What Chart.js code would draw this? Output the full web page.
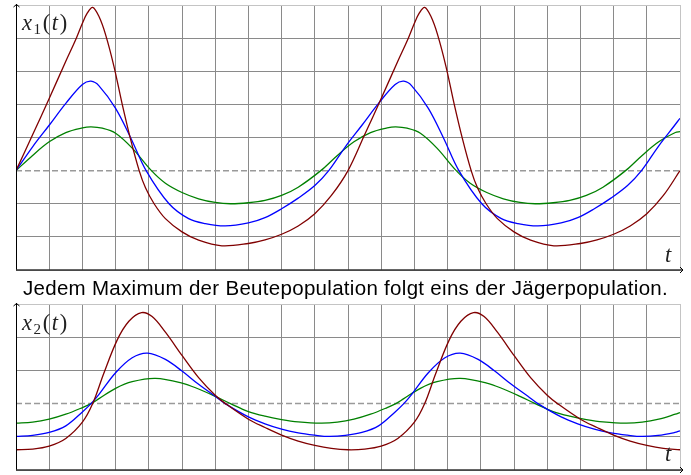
<!DOCTYPE html>
<html><head><meta charset="utf-8">
<script src="https://cdn.jsdelivr.net/npm/chart.js@4/dist/chart.umd.min.js"></script>
<style>
html,body{margin:0;padding:0;background:#fff;}
body{width:691px;height:475px;position:relative;overflow:hidden;}
canvas{position:absolute;left:0;}
#title{position:absolute;left:0;width:691px;top:277px;text-align:center;font-family:"Liberation Sans",Arial,Helvetica,sans-serif;font-size:20.5px;letter-spacing:0.3px;color:#000;white-space:nowrap;line-height:22px;}
.lab{position:absolute;font-family:"Liberation Serif","Times New Roman",serif;font-size:22.5px;letter-spacing:1.6px;color:#222;line-height:22px;white-space:nowrap;}
.lab sub{font-size:15px;font-style:normal;vertical-align:-4px;}
</style></head>
<body>
<canvas id="c1" width="691" height="280" style="top:0"></canvas>
<canvas id="c2" width="691" height="180" style="top:295px"></canvas>
<div id="title">Jedem Maximum der Beutepopulation folgt eins der Jägerpopulation.</div>
<div class="lab" style="left:22px;top:12px"><i>x</i><sub>1</sub>(<i>t</i>)</div>
<div class="lab" style="left:22px;top:312px"><i>x</i><sub>2</sub>(<i>t</i>)</div>
<div class="lab" style="left:665px;top:244px"><i>t</i></div>
<div class="lab" style="left:665px;top:443px"><i>t</i></div>
<script>
// ---- data ----
// Beute x1(t), dunkelrot
const tRedX1 = [0,0.5,1,1.5,1.81,2.0,2.15,2.31,2.5,2.7,2.95,3.2,3.45,3.71,3.9,4.16,4.5,5.0,5.5,6.2,7.0,7.5,8.0,8.5,9.0,9.5,
  10,10.5,11,11.5,11.81,12.0,12.15,12.31,12.5,12.7,12.95,13.2,13.45,13.71,13.9,14.16,14.5,15.0,15.5,16.2,17.0,17.5,18.0,18.5,19.0,19.5,20];
const redX1 = [0,1.08,2.18,3.3,3.98,4.45,4.76,4.93,4.65,4.1,3.15,2.0,0.95,0,-0.52,-1.0,-1.45,-1.85,-2.1,-2.27,-2.2,-2.09,-1.92,-1.67,-1.3,-0.75,
  0,1.08,2.18,3.3,3.98,4.45,4.76,4.93,4.65,4.1,3.15,2.0,0.95,0,-0.52,-1.0,-1.45,-1.85,-2.1,-2.27,-2.2,-2.09,-1.92,-1.67,-1.3,-0.75,0];
// Beute x1(t), blau
const tBlueX1 = [0,0.5,1.0,1.5,2.0,2.26,2.5,3.0,3.46,3.92,4.61,5.2,5.7,6.3,7.0,7.5,8.0,8.5,9.0,
  9.42,9.92,10.42,10.92,11.42,11.68,11.92,12.42,12.88,13.34,14.03,14.62,15.12,15.72,16.42,16.92,17.42,17.92,18.42,
  18.84,19.34,19.84,20];
const blueX1 = [0,0.72,1.37,2.03,2.6,2.7,2.56,1.88,0.98,0,-1.0,-1.45,-1.6,-1.67,-1.58,-1.42,-1.15,-0.83,-0.45,
  0,0.72,1.37,2.03,2.6,2.7,2.56,1.88,0.98,0,-1.0,-1.45,-1.6,-1.67,-1.58,-1.42,-1.15,-0.83,-0.45,
  0,0.72,1.37,1.58];
// Beute x1(t), grün
const tGreenX1 = [0,0.5,1.0,1.5,2.0,2.26,2.6,3.0,3.5,4.08,4.5,5.0,5.5,6.0,6.46,7.0,7.5,8.0,8.5,
  9.18,9.68,10.18,10.68,11.18,11.44,11.78,12.18,12.68,13.26,13.68,14.18,14.68,15.18,15.64,16.18,16.68,17.18,17.68,
  18.36,18.86,19.36,19.86,20];
const greenX1 = [0,0.46,0.87,1.15,1.29,1.32,1.28,1.13,0.68,0,-0.38,-0.66,-0.85,-0.96,-1.0,-0.97,-0.9,-0.75,-0.5,
  0,0.46,0.87,1.15,1.29,1.32,1.28,1.13,0.68,0,-0.38,-0.66,-0.85,-0.96,-1.0,-0.97,-0.9,-0.75,-0.5,
  0,0.46,0.87,1.15,1.18];
// Jäger x2(t), dunkelrot
const tRedX2 = [0,0.5,1.0,1.5,2.0,2.31,2.64,3.05,3.4,3.78,4.1,4.5,5.0,5.5,6.0,6.31,7.0,7.5,8.0,8.5,9.0,9.5,
  10,10.5,11.0,11.5,12.0,12.31,12.64,13.05,13.4,13.78,14.1,14.5,15.0,15.5,16.0,16.31,17.0,17.5,18.0,18.5,19.0,19.5,20];
const redX2 = [-1.39,-1.37,-1.28,-1.05,-0.56,0,0.9,1.92,2.48,2.74,2.62,2.15,1.45,0.78,0.25,0,-0.47,-0.72,-0.95,-1.13,-1.26,-1.35,
  -1.39,-1.37,-1.28,-1.05,-0.56,0,0.9,1.92,2.48,2.74,2.62,2.15,1.45,0.78,0.25,0,-0.47,-0.72,-0.95,-1.13,-1.26,-1.35,-1.39];
// Jäger x2(t), blau
const tBlueX2 = [0,0.5,1.0,1.5,2.0,2.26,2.5,3.0,3.5,3.96,4.5,5.0,5.5,6.0,6.3,7.0,7.5,8.0,8.5,9.0,
  9.42,9.92,10.42,10.92,11.42,11.68,11.92,12.42,12.92,13.38,13.92,14.42,14.92,15.42,15.72,16.42,16.92,17.42,17.92,18.42,
  18.84,19.34,19.84,20];
const blueX2 = [-0.99,-0.96,-0.87,-0.67,-0.25,0,0.28,0.93,1.38,1.52,1.33,0.98,0.58,0.22,0,-0.4,-0.61,-0.77,-0.88,-0.95,
  -0.99,-0.96,-0.87,-0.67,-0.25,0,0.28,0.93,1.38,1.52,1.33,0.98,0.58,0.22,0,-0.4,-0.61,-0.77,-0.88,-0.95,
  -0.99,-0.96,-0.87,-0.82];
// Jäger x2(t), grün
const tGreenX2 = [0,0.5,1.0,1.5,2.0,2.26,2.5,3.0,3.5,4.2,5.0,5.5,6.0,6.46,7.0,7.5,8.0,8.5,
  9.18,9.68,10.18,10.68,11.18,11.44,11.68,12.18,12.68,13.38,14.18,14.68,15.18,15.64,16.18,16.68,17.18,17.68,
  18.36,18.86,19.36,19.86,20];
const greenX2 = [-0.59,-0.56,-0.47,-0.32,-0.12,0,0.15,0.46,0.66,0.76,0.62,0.44,0.22,0,-0.24,-0.38,-0.48,-0.55,
  -0.59,-0.56,-0.47,-0.32,-0.12,0,0.15,0.46,0.66,0.76,0.62,0.44,0.22,0,-0.24,-0.38,-0.48,-0.55,
  -0.59,-0.56,-0.47,-0.32,-0.27];
// Ruhelage (gestrichelt)
const tRest = [0,20];
const rest = [0,0];
// Achsenbereiche
const tRange = [0,20];
const x1Range = [-3,5];
const x2Range = [-2,3];

// ---- chart construction ----
const pts = (t,v) => t.map((x,i)=>({x:x,y:v[i]}));
const RED='#800000', BLUE='#0000ff', GREEN='#008000';
function curve(t,v,c){return {data:pts(t,v),borderColor:c,borderWidth:1.3,pointRadius:0,showLine:true,fill:false,tension:0.35};}

const axesPlugin = {
  id:'axesArrows',
  afterDraw(chart){
    const {ctx, chartArea:a} = chart;
    ctx.save();
    const lx = Math.round(a.left)+0.5;
    ctx.strokeStyle='#000'; ctx.lineWidth=1;
    ctx.beginPath(); ctx.moveTo(lx,a.bottom); ctx.lineTo(lx,a.top-1); ctx.stroke();
    ctx.beginPath(); ctx.moveTo(lx-3,a.top+2); ctx.lineTo(lx,a.top-0.5); ctx.lineTo(lx+3,a.top+2); ctx.stroke();
    const by = Math.round(a.bottom);
    ctx.strokeStyle='#333'; ctx.lineWidth=1.6;
    ctx.beginPath(); ctx.moveTo(a.left,by); ctx.lineTo(a.right+3,by); ctx.stroke();
    ctx.lineWidth=1; ctx.strokeStyle='#000';
    ctx.beginPath(); ctx.moveTo(a.right,by-3); ctx.lineTo(a.right+3,by); ctx.lineTo(a.right,by+3); ctx.stroke();
    ctx.restore();
  }
};

function makeChart(id, datasets, yr, pad){
  return new Chart(document.getElementById(id), {
    type:'scatter',
    data:{datasets:datasets},
    options:{
      responsive:false, animation:false, devicePixelRatio:1,
      layout:{padding:pad},
      plugins:{legend:{display:false},tooltip:{enabled:false},title:{display:false}},
      scales:{
        x:{type:'linear',min:tRange[0],max:tRange[1],
           ticks:{display:false,stepSize:1},
           grid:{drawTicks:false,lineWidth:1,color:(c)=>c.tick && c.tick.value===tRange[1] ? '#c4c4c4' : '#8a8a8a'},
           border:{display:false}},
        y:{type:'linear',min:yr[0],max:yr[1],
           ticks:{display:false,stepSize:1},
           grid:{drawTicks:false,lineWidth:1,color:(c)=>c.tick && c.tick.value===yr[1] ? '#c4c4c4' : (c.tick && c.tick.value===0 ? 'rgba(0,0,0,0)' : '#8a8a8a')},
           border:{display:false}}
      }
    },
    plugins:[axesPlugin]
  });
}

const dashed = () => ({data:pts(tRest,rest),borderColor:'#9a9a9a',borderWidth:1.5,borderDash:[6,3],pointRadius:0,showLine:true,fill:false});

makeChart('c1',[
  curve(tRedX1,redX1,RED), curve(tBlueX1,blueX1,BLUE), curve(tGreenX1,greenX1,GREEN), dashed()
], x1Range, {left:16,right:11,top:5,bottom:10});

makeChart('c2',[
  curve(tRedX2,redX2,RED), curve(tBlueX2,blueX2,BLUE), curve(tGreenX2,greenX2,GREEN), dashed()
], x2Range, {left:16,right:11,top:9,bottom:5});
</script>
</body></html>
